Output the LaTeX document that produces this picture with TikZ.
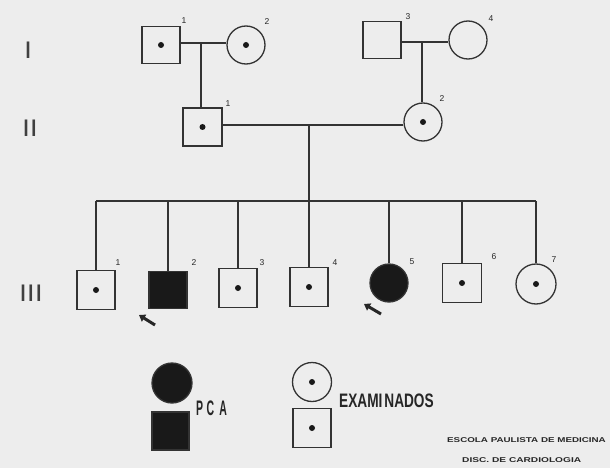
\documentclass[tikz,border=0pt]{standalone}
\usepackage{fontspec}
\setmainfont{Liberation Sans}
\usetikzlibrary{arrows.meta}
\begin{document}
\begin{tikzpicture}[x=1pt,y=-1pt,
  ln/.style={line width=1.3pt, draw=black!80},
  sq/.style={draw=black!80, line width=1.3pt, minimum width=38pt, minimum height=37pt, inner sep=0pt},
  ci/.style={draw=black!80, line width=1.3pt, circle, minimum size=38pt, inner sep=0pt},
  aff/.style={fill=black!90},
  num/.style={font=\fontsize{8.5}{9}\selectfont, inner sep=0pt, text=black!85},
  gen/.style={font=\fontsize{24}{24}\selectfont\bfseries\addfontfeatures{FakeStretch=0.75,LetterSpace=12}, inner sep=0pt, text=black!75},
  ptr/.style={line width=3pt, -{Triangle[length=6pt,width=8pt]}, black!85}]
\fill[black!7] (0,0) rectangle (610,468);
\useasboundingbox (0,0) rectangle (610,468);
% generation labels
\node[gen] (gI) at (28,50) {I};
\node[gen] (gII) at (30,128) {II};
\node[gen] (gIII) at (31,293) {III};
% generation I
\node[sq] (a1) at (161,45) {};
\node[ci] (a2) at (246,45) {};
\node[sq] (a3) at (382,40) {};
\node[ci] (a4) at (468,40) {};
\node[num] (na1) at (184,21) {1};
\node[num] (na2) at (267,22) {2};
\node[num] (na3) at (408,17) {3};
\node[num] (na4) at (491,19) {4};
% generation II
\node[sq, minimum width=39pt, minimum height=38pt] (b1) at (202.5,127) {};
\node[ci] (b2) at (423,122) {};
\node[num] (nb1) at (228,104) {1};
\node[num] (nb2) at (442,99) {2};
% generation III
\node[sq, minimum height=39pt] (c1) at (96,290) {};
\node[sq, aff] (c2) at (168,290) {};
\node[sq, minimum height=39pt] (c3) at (238,288) {};
\node[sq, minimum height=39pt] (c4) at (309,287) {};
\node[ci, aff] (c5) at (389,283) {};
\node[sq, minimum width=39pt, minimum height=39pt] (c6) at (462,283) {};
\node[ci, minimum size=40pt] (c7) at (536,284) {};
\node[num] (nc1) at (118,263) {1};
\node[num] (nc2) at (194,263) {2};
\node[num] (nc3) at (262,263) {3};
\node[num] (nc4) at (335,263) {4};
\node[num] (nc5) at (412,262) {5};
\node[num] (nc6) at (494,257) {6};
\node[num] (nc7) at (554,260) {7};
% dots (examined)
\foreach \n in {a1,a2,b1,b2,c1,c3,c4,c6,c7} \fill[black!90] (\n) circle (3pt);
% marriage lines and descents
\coordinate (m1) at (201,43);
\coordinate (m2) at (422,42);
\coordinate (m3) at (309,125);
\coordinate (s) at (309,201);
\draw[ln] (a1.east |- m1) -- (a2.west |- m1);
\draw[ln] (a3.east |- m2) -- (a4.west |- m2);
\draw[ln] (m1) -- (m1 |- b1.north);
\draw[ln] (m2) -- (m2 |- b2.north);
\draw[ln] (b1.east |- m3) -- (b2.west |- m3);
\draw[ln] (m3) -- (c4.north);
\draw[ln] (c1.north |- s) -- (c7.north |- s);
\foreach \n in {c1,c2,c3,c5,c6,c7} \draw[ln] (\n.north |- s) -- (\n.north);
% proband arrows
\coordinate (p2a) at (155,325);
\coordinate (p2b) at (139,315);
\coordinate (p5a) at (381,314);
\coordinate (p5b) at (364,304);
\draw[ptr] (p2a) -- (p2b);
\draw[ptr] (p5a) -- (p5b);
% legend
\node[ci, aff, minimum size=40pt] (l1) at (172,383) {};
\node[sq, aff, minimum width=37pt, minimum height=38pt] (l2) at (170.5,431) {};
\node[font=\fontsize{21}{22}\selectfont\bfseries\addfontfeatures{FakeStretch=0.5}, inner sep=0pt, anchor=base west, text=black!85] (lpca) at (196,415) {P\hspace{3.5pt}C\hspace{5pt}A};
\node[ci, minimum size=39pt] (l3) at (312,382) {};
\node[sq, minimum width=38pt, minimum height=39pt] (l4) at (312,428) {};
\fill[black!90] (l3) circle (3pt);
\fill[black!90] (l4) circle (3pt);
\node[font=\fontsize{19.5}{20}\selectfont\bfseries\addfontfeatures{FakeStretch=0.7}, inner sep=0pt, anchor=base west, text=black!85] (lex) at (339,407) {EXAMI\hspace{2pt}NADOS};
\node[font=\fontsize{7}{8}\selectfont\bfseries\addfontfeatures{FakeStretch=1.4}, inner sep=0pt, anchor=west, text=black!85] (esc) at (447,440) {ESCOLA PAULISTA DE MEDICINA};
\node[font=\fontsize{7}{8}\selectfont\bfseries\addfontfeatures{FakeStretch=1.45}, inner sep=0pt, anchor=west, text=black!85] (disc) at (462,460) {DISC. DE CARDIOLOGIA};
\end{tikzpicture}
\end{document}
